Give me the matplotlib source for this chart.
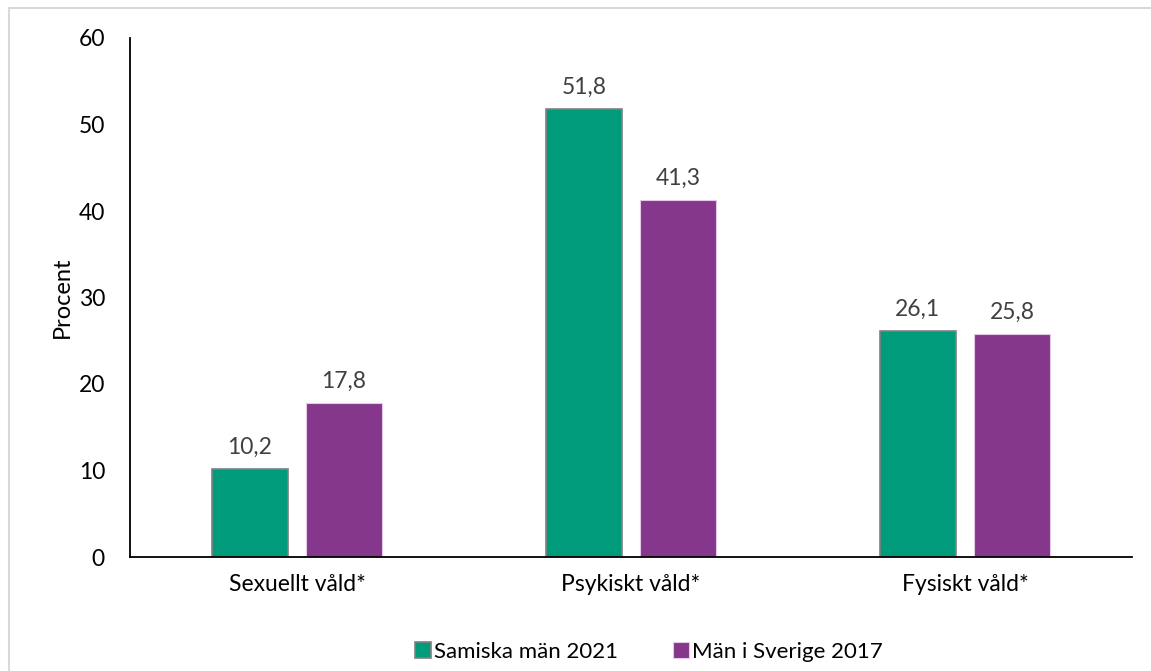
import numpy as np
import matplotlib
matplotlib.use("Agg")
import matplotlib.pyplot as plt
from matplotlib.patches import Rectangle

# data
categories = ["Sexuellt våld*", "Psykiskt våld*", "Fysiskt våld*"]
samiska_2021 = [10.2, 51.8, 26.1]
sverige_2017 = [17.8, 41.3, 25.8]
series_names = ["Samiska män 2021", "Män i Sverige 2017"]
yticks = [0, 10, 20, 30, 40, 50, 60]

GREEN = "#009B7B"
PURPLE = "#84378B"

plt.rcParams['font.family'] = ['Lato', 'DejaVu Sans']

fig = plt.figure(figsize=(11.51, 6.71), dpi=100)
fig.patches.append(Rectangle((9 / 1151, -0.1), 1.2, 1 - 8 / 671 + 0.1,
                             transform=fig.transFigure, fill=False,
                             edgecolor="#d9d9d9", linewidth=1.5))

ax = fig.add_axes([130 / 1151, 1 - 557 / 671, (1132 - 130) / 1151, (557 - 38) / 671])

x = np.arange(len(categories))
w = 0.227
off = 0.141
b1 = ax.bar(x - off, samiska_2021, w, color=GREEN, edgecolor="#808080", linewidth=1.2,
            label=series_names[0])
b2 = ax.bar(x + off, sverige_2017, w, color=PURPLE, edgecolor="#e6c8e8", linewidth=0.8,
            label=series_names[1])

for bars, vals in [(b1, samiska_2021), (b2, sverige_2017)]:
    for r, v in zip(bars, vals):
        ax.annotate(f"{v:.1f}".replace(".", ","), (r.get_x() + r.get_width() / 2, v),
                    xytext=(0, 8), textcoords="offset points", ha="center", va="bottom",
                    fontsize=16.5, color="#404040")

ax.set_xlim(-0.5, 2.5)
ax.set_ylim(0, 60)
ax.set_yticks(yticks)
ax.set_xticks(x)
ax.set_xticklabels(categories)
ax.tick_params(axis="both", length=0, labelsize=16.5, colors="black")
ax.tick_params(axis="y", pad=18)
ax.tick_params(axis="x", pad=12)
for s in ["top", "right"]:
    ax.spines[s].set_visible(False)
ax.spines["left"].set_linewidth(1.3)
ax.spines["bottom"].set_linewidth(1.3)
ax.set_ylabel("Procent", fontsize=17, labelpad=4)

leg = ax.legend(loc="center", bbox_to_anchor=((649 - 130) / (1132 - 130), -0.183), ncol=2,
                frameon=False, fontsize=16, handlelength=0.7, handleheight=0.7,
                handletextpad=0.15, columnspacing=2.5)
leg.legend_handles[0].set_edgecolor("#808080")
leg.legend_handles[0].set_linewidth(1.2)

fig.savefig("out.png", dpi=100, facecolor="white")
